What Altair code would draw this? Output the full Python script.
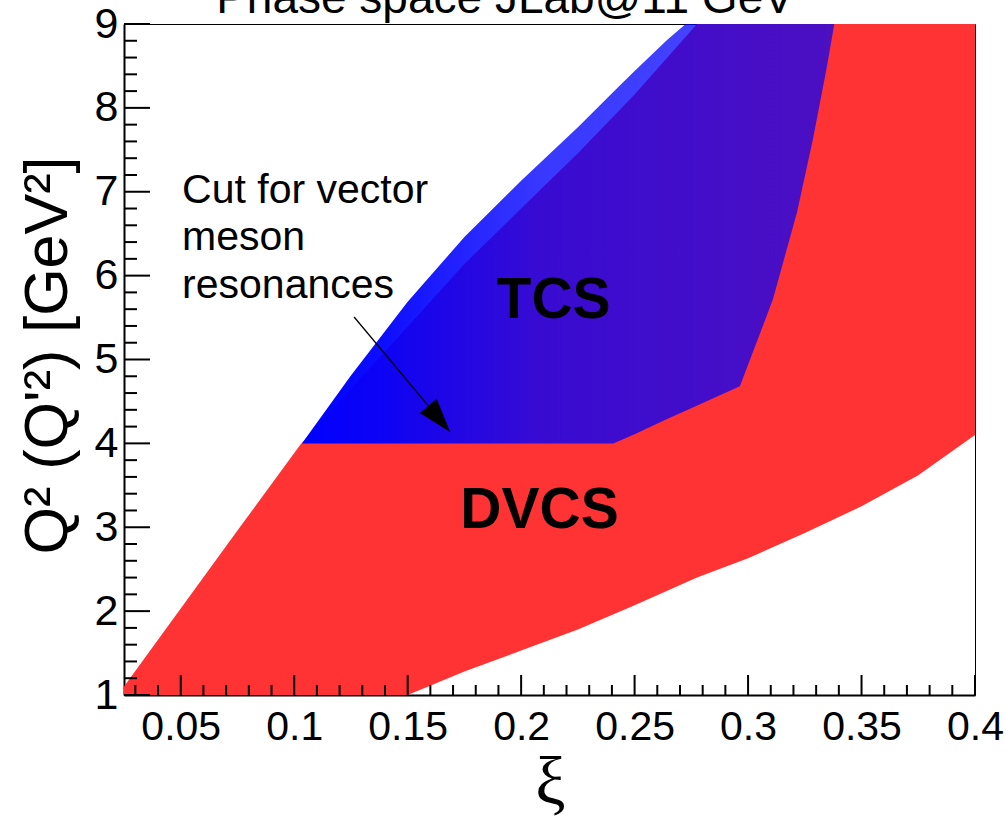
import altair as alt
import pandas as pd

W, H = 851, 671

# ---- DVCS (red) phase-space region: lower / upper Q^2 edge at each xi ----
dvcs_xi = [0.025, 0.05, 0.075, 0.1026, 0.125, 0.15, 0.175, 0.2, 0.225, 0.25,
           0.2775, 0.3, 0.325, 0.35, 0.375, 0.4]
dvcs_q2_low = [1.0, 1.0, 1.0, 1.0, 1.0, 1.0, 1.28, 1.53, 1.78, 2.07,
               2.40, 2.63, 2.93, 3.25, 3.62, 4.1]
dvcs_q2_high = [1.1, 2.03, 2.96, 3.98, 4.65, 5.39, 6.14, 6.80, 7.46, 8.16,
                9.0, 9.0, 9.0, 9.0, 9.0, 9.0]

# ---- TCS (blue) phase-space region ----
tcs_xi = [0.1034, 0.125, 0.15, 0.175, 0.2, 0.225, 0.2406, 0.25, 0.2643, 0.2725,
          0.2964, 0.311, 0.3216, 0.3286, 0.3348, 0.338]
tcs_q2_low = [4.0, 4.0, 4.0, 4.0, 4.0, 4.0, 4.0, 4.11, 4.29, 4.39,
              4.68, 5.72, 6.76, 7.63, 8.50, 9.0]
tcs_q2_high = [4.0, 4.81, 5.69, 6.46, 7.13, 7.77, 8.19, 8.44, 8.81, 9.0,
               9.0, 9.0, 9.0, 9.0, 9.0, 9.0]

# ---- axis ticks ----
x_major_ticks = [0.05, 0.1, 0.15, 0.2, 0.25, 0.3, 0.35, 0.4]
x_minor_ticks = [0.03, 0.04, 0.06, 0.07, 0.08, 0.09, 0.11, 0.12, 0.13, 0.14,
                 0.16, 0.17, 0.18, 0.19, 0.21, 0.22, 0.23, 0.24, 0.26, 0.27,
                 0.28, 0.29, 0.31, 0.32, 0.33, 0.34, 0.36, 0.37, 0.38, 0.39]
y_major_ticks = [1, 2, 3, 4, 5, 6, 7, 8, 9]
y_minor_ticks = [1.2, 1.4, 1.6, 1.8, 2.2, 2.4, 2.6, 2.8, 3.2, 3.4, 3.6, 3.8,
                 4.2, 4.4, 4.6, 4.8, 5.2, 5.4, 5.6, 5.8, 6.2, 6.4, 6.6, 6.8,
                 7.2, 7.4, 7.6, 7.8, 8.2, 8.4, 8.6, 8.8]

# ---- annotations ----
label_text = ["TCS", "DVCS"]
label_xi = [0.2143, 0.2081]
label_q2 = [5.495, 2.991]

note_lines = ["Cut for vector", "meson", "resonances"]
note_xi = [0.0506, 0.0506, 0.0506]
note_q2 = [6.866, 6.306, 5.733]

arrow_xi = [0.1264, 0.1639]   # tail, head centre
arrow_q2 = [5.507, 4.292]

title_text = ["Phase space JLab@11 GeV"]
title_xi = [0.1929]
title_q2 = [9.131]

FONT = "Liberation Sans"

xs = alt.Scale(domain=[0.025, 0.4], nice=False, zero=False)
ys = alt.Scale(domain=[1, 9], nice=False, zero=False)

x_axis = alt.Axis(values=x_major_ticks, format="~g", ticks=False, grid=False,
                  labelFlush=False, labelOverlap=False, domainColor="black",
                  domainWidth=2, labelFont=FONT, labelFontSize=41,
                  labelColor="black", labelPadding=12, title="ξ",
                  titleFont="Liberation Serif", titleFontSize=68,
                  titleFontWeight="normal", titleColor="black",
                  titleX=426, titleY=108, titleAlign="center",
                  titleBaseline="alphabetic")
y_axis = alt.Axis(values=y_major_ticks, format="d", ticks=False, grid=False,
                  labelFlush=False, labelOverlap=False, domainColor="black",
                  domainWidth=2, labelFont=FONT, labelFontSize=43,
                  labelColor="black", labelPadding=6,
                  title="Q² (Q'²) [GeV²]", titleFont=FONT, titleFontSize=61,
                  titleFontWeight="normal", titleColor="black",
                  titleAngle=270, titleX=-76, titleY=331,
                  titleAlign="center", titleBaseline="middle")


def X(field):
    return alt.X(field, scale=xs, axis=x_axis, title="ξ")


def Y(field):
    return alt.Y(field, scale=ys, axis=y_axis, title="Q² (Q'²) [GeV²]")


dvcs_df = pd.DataFrame({"xi": dvcs_xi, "lo": dvcs_q2_low, "hi": dvcs_q2_high})
tcs_df = pd.DataFrame({"xi": tcs_xi, "lo": tcs_q2_low, "hi": tcs_q2_high})

dvcs = alt.Chart(dvcs_df).mark_area(color="#ff3333", interpolate="linear").encode(
    x=X("xi:Q"), y=Y("lo:Q"), y2="hi:Q",
)

blue_grad = alt.Gradient(
    gradient="linear",
    stops=[alt.GradientStop(offset=0, color="rgba(0,0,255,1)"),
           alt.GradientStop(offset=0.15, color="rgba(0,0,255,0.95)"),
           alt.GradientStop(offset=0.45, color="rgba(0,0,255,0.78)"),
           alt.GradientStop(offset=1, color="rgba(0,0,255,0.70)")],
    x1=0, x2=1, y1=0, y2=0,
)

tcs = alt.Chart(tcs_df).mark_area(color=blue_grad, interpolate="linear").encode(
    x=X("xi:Q"), y=Y("lo:Q"), y2="hi:Q",
)

xmaj = alt.Chart(pd.DataFrame({"xi": x_major_ticks})).mark_rule(color="black", strokeWidth=2).encode(
    x=X("xi:Q"), y=alt.value(H), y2=alt.value(H - 20))
xmin = alt.Chart(pd.DataFrame({"xi": x_minor_ticks})).mark_rule(color="black", strokeWidth=2).encode(
    x=X("xi:Q"), y=alt.value(H), y2=alt.value(H - 10))
ymaj = alt.Chart(pd.DataFrame({"lo": y_major_ticks})).mark_rule(color="black", strokeWidth=2).encode(
    y=Y("lo:Q"), x=alt.value(0), x2=alt.value(26))
ymin = alt.Chart(pd.DataFrame({"lo": y_minor_ticks})).mark_rule(color="black", strokeWidth=2).encode(
    y=Y("lo:Q"), x=alt.value(0), x2=alt.value(13))

labels = alt.Chart(pd.DataFrame({"xi": label_xi, "lo": label_q2, "t": label_text})).mark_text(
    font=FONT, fontSize=57, fontWeight="bold", color="black", align="center",
    baseline="alphabetic").encode(x=X("xi:Q"), y=Y("lo:Q"), text="t:N")

notes = alt.Chart(pd.DataFrame({"xi": note_xi, "lo": note_q2, "t": note_lines})).mark_text(
    font=FONT, fontSize=41, color="black", align="left", baseline="alphabetic").encode(
    x=X("xi:Q"), y=Y("lo:Q"), text="t:N")

arrow_line = alt.Chart(pd.DataFrame({"xi": [arrow_xi[0]], "lo": [arrow_q2[0]],
                                     "x1": [arrow_xi[1]], "y1": [arrow_q2[1]]})).mark_rule(
    color="black", strokeWidth=1.3).encode(
    x=X("xi:Q"), y=Y("lo:Q"), x2="x1:Q", y2="y1:Q")

arrow_head = alt.Chart(pd.DataFrame({"xi": [arrow_xi[1]], "lo": [arrow_q2[1]]})).mark_point(
    shape="M0,-1L0.65,1L-0.65,1Z", size=1156, angle=140, filled=True,
    color="black", opacity=1, strokeWidth=0).encode(x=X("xi:Q"), y=Y("lo:Q"))

title = alt.Chart(pd.DataFrame({"xi": title_xi, "lo": title_q2, "t": title_text})).mark_text(
    font=FONT, fontSize=46, color="black", align="center", baseline="alphabetic").encode(
    x=X("xi:Q"), y=Y("lo:Q"), text="t:N")

chart = alt.layer(
    dvcs, tcs, xmaj, xmin, ymaj, ymin, labels, notes, arrow_line, arrow_head, title
).properties(
    width=W, height=H,
    autosize=alt.AutoSizeParams(type="none"),
    padding={"left": 124, "top": 24, "right": 31, "bottom": 128},
    background="white",
).configure_view(stroke="black", strokeWidth=1)

chart.save("out.html", embed_options={"renderer": "svg", "actions": False})
